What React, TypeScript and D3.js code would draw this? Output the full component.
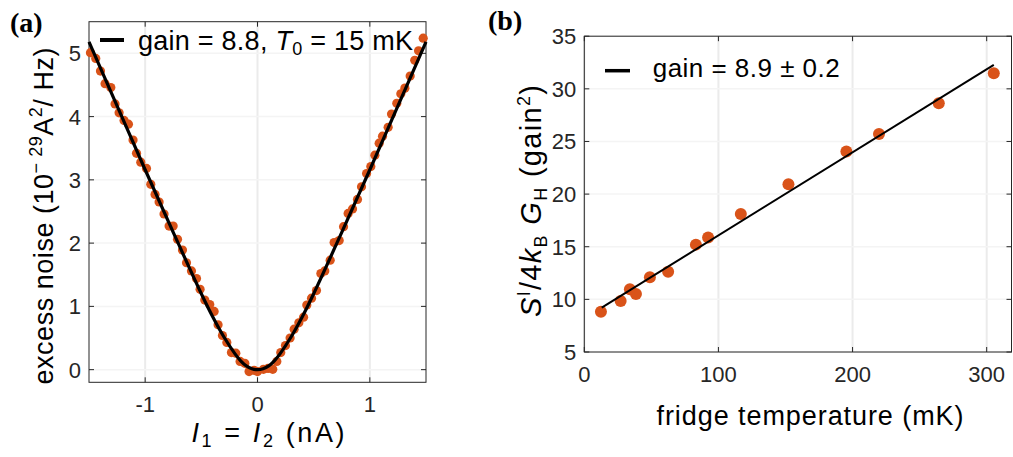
import { useEffect, useRef } from 'react';
import * as d3 from 'd3';

// panel (a): excess noise vs bias current
const currentA = [
  -1.487, -1.44, -1.398, -1.357, -1.306, -1.268, -1.232, -1.188, -1.149, -1.108,
  -1.077, -1.039, -0.988, -0.95, -0.912, -0.876, -0.832, -0.787, -0.751, -0.712,
  -0.668, -0.632, -0.588, -0.543, -0.511, -0.469, -0.425, -0.386, -0.351, -0.312,
  -0.273, -0.232, -0.193, -0.155, -0.113, -0.075, -0.03, 0.0, 0.053, 0.094,
  0.136, 0.172, 0.207, 0.249, 0.29, 0.326, 0.368, 0.41, 0.439, 0.481,
  0.525, 0.564, 0.599, 0.647, 0.682, 0.727, 0.766, 0.807, 0.846, 0.89,
  0.926, 0.971, 1.009, 1.045, 1.083, 1.113, 1.163, 1.193, 1.24, 1.276,
  1.312, 1.359, 1.4, 1.434, 1.475,
];
const noiseA = [
  5.01, 4.92, 4.72, 4.52, 4.46, 4.2, 4.06, 3.94, 3.88, 3.63,
  3.42, 3.28, 3.18, 2.93, 2.77, 2.65, 2.46, 2.27, 2.27, 2.06,
  1.89, 1.69, 1.56, 1.44, 1.27, 1.1, 1.03, 0.92, 0.71, 0.54,
  0.43, 0.27, 0.26, 0.13, 0.1, -0.03, -0.01, -0.03, 0.005, 0.02,
  0.005, 0.13, 0.27, 0.38, 0.5, 0.64, 0.74, 0.83, 1.02, 1.13,
  1.25, 1.52, 1.56, 1.73, 2.01, 2.04, 2.26, 2.47, 2.54, 2.69,
  2.89, 3.1, 3.21, 3.39, 3.58, 3.69, 3.83, 4.04, 4.21, 4.36,
  4.45, 4.64, 4.89, 5.04, 5.24,
];
// fit curve (gain = 8.8, T0 = 15 mK)
const fitCurrentA = [-1.5, -1.25, -1, -0.75, -0.5, -0.4, -0.3, -0.2, -0.15, -0.1, -0.05, 0,
  0.05, 0.1, 0.15, 0.2, 0.3, 0.4, 0.5, 0.75, 1, 1.25, 1.5];
const fitNoiseA = [5.18, 4.17, 3.16, 2.17, 1.2, 0.84, 0.52, 0.25, 0.14, 0.06, 0.015, 0,
  0.015, 0.06, 0.14, 0.25, 0.52, 0.84, 1.2, 2.17, 3.16, 4.17, 5.18];
const xTicksA = [-1, 0, 1];
const yTicksA = [0, 1, 2, 3, 4, 5];

// panel (b): normalized noise vs fridge temperature
const tempB = [12.4, 27.1, 34.0, 38.5, 48.9, 62.5, 83.2, 92.3, 116.7, 152.2, 195.4, 219.7, 264.3, 305.3];
const noiseB = [8.83, 9.85, 10.96, 10.51, 12.1, 12.63, 15.2, 15.87, 18.12, 20.94, 24.04, 25.72, 28.64, 31.49];
const fitTempB = [13, 305.3];
const fitNoiseB = [9.21, 32.28];
const xTicksB = [0, 100, 200, 300];
const yTicksB = [5, 10, 15, 20, 25, 30, 35];

const FONT = '"Liberation Sans", Arial, Helvetica, sans-serif';
const AX = '#262626';
const DOT = '#D95319';

type Box = { left: number; right: number; top: number; bottom: number };

function drawFrame(
  g: d3.Selection<SVGGElement, unknown, null, undefined>,
  x: d3.ScaleLinear<number, number>,
  y: d3.ScaleLinear<number, number>,
  box: Box,
  xTicks: number[],
  yTicks: number[],
  fmt: (v: number) => string,
) {
  // grid
  g.append('g')
    .selectAll('line')
    .data(xTicks)
    .join('line')
    .attr('x1', d => x(d)).attr('x2', d => x(d))
    .attr('y1', box.top).attr('y2', box.bottom)
    .attr('stroke', '#ebebeb').attr('stroke-width', 2);
  g.append('g')
    .selectAll('line')
    .data(yTicks)
    .join('line')
    .attr('x1', box.left).attr('x2', box.right)
    .attr('y1', d => y(d)).attr('y2', d => y(d))
    .attr('stroke', '#f4f4f4').attr('stroke-width', 1.5);

  // box
  g.append('rect')
    .attr('x', box.left).attr('y', box.top)
    .attr('width', box.right - box.left).attr('height', box.bottom - box.top)
    .attr('fill', 'none').attr('stroke', AX).attr('stroke-width', 1);

  const tl = 5;
  xTicks.forEach(t => {
    g.append('line').attr('x1', x(t)).attr('x2', x(t)).attr('y1', box.bottom).attr('y2', box.bottom - tl).attr('stroke', AX);
    g.append('line').attr('x1', x(t)).attr('x2', x(t)).attr('y1', box.top).attr('y2', box.top + tl).attr('stroke', AX);
  });
  yTicks.forEach(t => {
    g.append('line').attr('x1', box.left).attr('x2', box.left + tl).attr('y1', y(t)).attr('y2', y(t)).attr('stroke', AX);
    g.append('line').attr('x1', box.right).attr('x2', box.right - tl).attr('y1', y(t)).attr('y2', y(t)).attr('stroke', AX);
  });

  g.append('g')
    .selectAll('text')
    .data(xTicks)
    .join('text')
    .attr('x', d => x(d))
    .attr('y', box.bottom + 30)
    .attr('text-anchor', 'middle')
    .style('font-family', FONT).style('font-size', '22px').style('fill', AX)
    .text(d => fmt(d));
  g.append('g')
    .selectAll('text')
    .data(yTicks)
    .join('text')
    .attr('x', box.left - 8)
    .attr('y', d => y(d) + 8)
    .attr('text-anchor', 'end')
    .style('font-family', FONT).style('font-size', '22px').style('fill', AX)
    .text(d => fmt(d));
}

export default function App() {
  const svgRef = useRef<SVGSVGElement>(null);

  useEffect(() => {
    if (!svgRef.current) return;
    const svg = d3.select(svgRef.current);
    svg.selectAll('*').remove();

    const fmt = (v: number) => (v < 0 ? '-' + Math.abs(v) : String(v));

    // ---------- panel (a)
    const boxA: Box = { left: 89, right: 426, top: 21.7, bottom: 382.3 };
    const xA = d3.scaleLinear().domain([-1.5, 1.5]).range([boxA.left, boxA.right]);
    const yA = d3.scaleLinear().domain([-0.2, 5.5]).range([boxA.bottom, boxA.top]);
    const gA = svg.append('g');
    drawFrame(gA, xA, yA, boxA, xTicksA, yTicksA, fmt);

    gA.append('g')
      .selectAll('circle')
      .data(currentA.map((c, i) => [c, noiseA[i]]))
      .join('circle')
      .attr('cx', d => xA(d[0]))
      .attr('cy', d => yA(d[1]))
      .attr('r', 4.6)
      .attr('fill', DOT);

    const lineA = d3.line<number>()
      .x(d => xA(fitCurrentA[d]))
      .y(d => yA(fitNoiseA[d]))
      .curve(d3.curveCatmullRom);
    gA.append('path')
      .attr('d', lineA(fitCurrentA.map((_, i) => i)))
      .attr('fill', 'none').attr('stroke', '#000').attr('stroke-width', 3.2);

    // legend (a)
    gA.append('line').attr('x1', 100).attr('x2', 124).attr('y1', 40).attr('y2', 40)
      .attr('stroke', '#000').attr('stroke-width', 4);
    const legA = gA.append('text').attr('x', 138).attr('y', 50)
      .attr('textLength', 275).attr('lengthAdjust', 'spacing')
      .style('font-family', FONT).style('font-size', '27px').style('fill', '#000');
    legA.append('tspan').text('gain = 8.8, ');
    legA.append('tspan').style('font-style', 'italic').text('T');
    legA.append('tspan').attr('dy', 5).style('font-size', '18px').text('0');
    legA.append('tspan').attr('dy', -5).text(' = 15 mK');

    // axis labels (a)
    const xlabA = gA.append('text').attr('x', 268).attr('y', 442).attr('text-anchor', 'middle')
      .attr('textLength', 153).attr('lengthAdjust', 'spacing')
      .style('font-family', FONT).style('font-size', '27px').style('fill', '#000');
    xlabA.append('tspan').style('font-style', 'italic').text('I');
    xlabA.append('tspan').attr('dy', 5).style('font-size', '18px').text('1');
    xlabA.append('tspan').attr('dy', -5).text(' = ');
    xlabA.append('tspan').style('font-style', 'italic').text('I');
    xlabA.append('tspan').attr('dy', 5).style('font-size', '18px').text('2');
    xlabA.append('tspan').attr('dy', -5).text(' (nA)');

    const ylabA = gA.append('text').attr('transform', 'translate(53,216) rotate(-90)')
      .attr('text-anchor', 'middle')
      .attr('textLength', 337).attr('lengthAdjust', 'spacing')
      .style('font-family', FONT).style('font-size', '27px').style('fill', '#000');
    ylabA.append('tspan').text('excess noise (10');
    ylabA.append('tspan').attr('dy', -11).style('font-size', '18px').text('\u2212 29');
    ylabA.append('tspan').attr('dy', 11).text('A');
    ylabA.append('tspan').attr('dy', -11).style('font-size', '18px').text('2');
    ylabA.append('tspan').attr('dy', 11).text('/ Hz)');

    svg.append('text').attr('x', 10).attr('y', 32)
      .style('font-family', '"Liberation Serif", "Times New Roman", serif')
      .style('font-weight', 'bold').style('font-size', '28px').style('fill', '#000')
      .text('(a)');

    // ---------- panel (b)
    const boxB: Box = { left: 584.3, right: 1011.5, top: 36.2, bottom: 352 };
    const xB = d3.scaleLinear().domain([0, 318.5]).range([boxB.left, boxB.right]);
    const yB = d3.scaleLinear().domain([5, 35]).range([boxB.bottom, boxB.top]);
    const gB = svg.append('g');
    drawFrame(gB, xB, yB, boxB, xTicksB, yTicksB, fmt);

    gB.append('g')
      .selectAll('circle')
      .data(tempB.map((t, i) => [t, noiseB[i]]))
      .join('circle')
      .attr('cx', d => xB(d[0]))
      .attr('cy', d => yB(d[1]))
      .attr('r', 6)
      .attr('fill', DOT);

    gB.append('path')
      .attr('d', d3.line<number>().x(i => xB(fitTempB[i])).y(i => yB(fitNoiseB[i]))([0, 1]))
      .attr('fill', 'none').attr('stroke', '#000').attr('stroke-width', 2);

    gB.append('line').attr('x1', 605).attr('x2', 630).attr('y1', 70.7).attr('y2', 70.7)
      .attr('stroke', '#000').attr('stroke-width', 3.5);
    gB.append('text').attr('x', 652.7).attr('y', 77.3)
      .attr('textLength', 187).attr('lengthAdjust', 'spacing')
      .style('font-family', FONT).style('font-size', '26px').style('fill', '#000')
      .text('gain = 8.9 \u00b1 0.2');

    gB.append('text').attr('x', 810).attr('y', 425).attr('text-anchor', 'middle')
      .attr('textLength', 307).attr('lengthAdjust', 'spacing')
      .style('font-family', FONT).style('font-size', '27px').style('fill', '#000')
      .text('fridge temperature (mK)');

    const ylabB = gB.append('text').attr('transform', 'translate(541,201) rotate(-90)')
      .attr('text-anchor', 'middle')
      .attr('textLength', 232).attr('lengthAdjust', 'spacing')
      .style('font-family', FONT).style('font-size', '29px').style('fill', '#000');
    ylabB.append('tspan').style('font-style', 'italic').text('S');
    ylabB.append('tspan').attr('dy', -11).style('font-size', '18px').text('I');
    ylabB.append('tspan').attr('dy', 11).text('/4');
    ylabB.append('tspan').style('font-style', 'italic').text('k');
    ylabB.append('tspan').attr('dy', 6).style('font-size', '18px').text('B');
    ylabB.append('tspan').attr('dy', -6).text(' ');
    ylabB.append('tspan').style('font-style', 'italic').text('G');
    ylabB.append('tspan').attr('dy', 6).style('font-size', '18px').text('H');
    ylabB.append('tspan').attr('dy', -6).text('  (gain');
    ylabB.append('tspan').attr('dy', -11).style('font-size', '18px').text('2');
    ylabB.append('tspan').attr('dy', 11).text(')');

    svg.append('text').attr('x', 488).attr('y', 30)
      .style('font-family', '"Liberation Serif", "Times New Roman", serif')
      .style('font-weight', 'bold').style('font-size', '28px').style('fill', '#000')
      .text('(b)');
  }, []);

  return (
    <svg
      ref={svgRef}
      width={1013}
      height={457}
      style={{ position: 'absolute', left: 0, top: 0, background: '#fff' }}
    />
  );
}
